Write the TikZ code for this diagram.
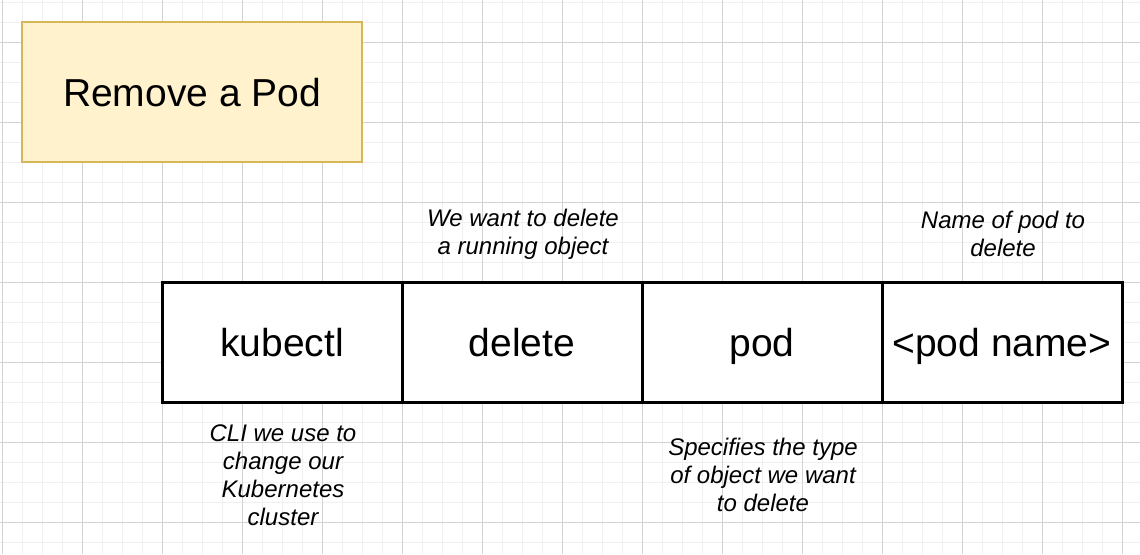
\documentclass[tikz,border=0pt]{standalone}
\usepackage{fontspec}
\setmainfont{Liberation Sans}
\definecolor{gminor}{HTML}{F0F0F0}
\definecolor{gmajor}{HTML}{D3D3D3}
\definecolor{titlefill}{HTML}{FFF2CC}
\definecolor{titledraw}{HTML}{D6B656}
\begin{document}
\begin{tikzpicture}[x=1pt,y=-1pt,
  titlebox/.style={draw=titledraw,fill=titlefill,line width=2.5pt,minimum width=340pt,minimum height=140pt,inner sep=0pt,text height=35pt,text depth=7pt,font=\fontsize{39}{46}\selectfont},
  cell/.style={draw=black,fill=white,line width=3pt,minimum width=240pt,minimum height=120pt,inner sep=0pt,text height=35pt,text depth=7pt,font=\fontsize{39}{46}\selectfont},
  note/.style={align=center,inner sep=0pt,font=\fontsize{24}{28}\selectfont\itshape},
  minorline/.style={draw=gminor,line width=1pt},
  majorline/.style={draw=gmajor,line width=1pt}]
\useasboundingbox (0,0) rectangle (1140,554);
\fill[white] (0,0) rectangle (1140,554);
\foreach \i in {0,...,56} \draw[minorline] ({2.5+20*\i},0) -- ({2.5+20*\i},554);
\foreach \j in {0,...,27} \draw[minorline] (0,{2.5+20*\j}) -- (1140,{2.5+20*\j});
\foreach \i in {0,...,14} \draw[majorline] ({2.5+80*\i},0) -- ({2.5+80*\i},554);
\foreach \j in {0,...,6} \draw[majorline] (0,{42.5+80*\j}) -- (1140,{42.5+80*\j});

\node[titlebox] (title) at (192,92) {Remove a Pod};

\node[cell] (kubectl) at (282,342) {kubectl};
\node[cell] (delete) at (522,342) {delete};
\node[cell] (pod) at (762,342) {pod};
\node[cell] (podname) at (1002,342) {<pod name>};

\node[note] (ndelete) at (523,234) {We want to delete\\a running object};
\node[note] (npodname) at (1003,234) {Name of pod to\\delete};
\node[note] (nkubectl) at (283,475) {CLI we use to\\change our\\Kubernetes\\cluster};
\node[note] (npod) at (763,475) {Specifies the type\\of object we want\\to delete};
\end{tikzpicture}
\end{document}
